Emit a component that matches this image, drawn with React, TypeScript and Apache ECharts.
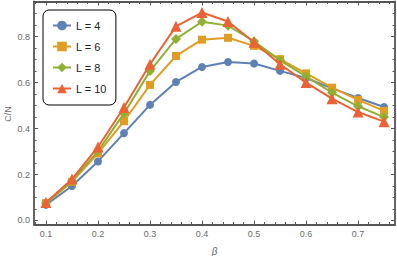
import React, { useEffect, useRef } from "react";
import * as echarts from "echarts";

const beta = [0.1, 0.15, 0.2, 0.25, 0.3, 0.35, 0.4, 0.45, 0.5, 0.55, 0.6, 0.65, 0.7, 0.75];
const L4 = [0.068, 0.15, 0.257, 0.38, 0.503, 0.603, 0.668, 0.69, 0.683, 0.651, 0.62, 0.575, 0.533, 0.494];
const L6 = [0.075, 0.168, 0.292, 0.432, 0.59, 0.716, 0.787, 0.795, 0.76, 0.702, 0.64, 0.578, 0.525, 0.477];
const L8 = [0.076, 0.172, 0.302, 0.466, 0.65, 0.79, 0.865, 0.848, 0.78, 0.697, 0.627, 0.556, 0.497, 0.45];
const L10 = [0.078, 0.18, 0.32, 0.492, 0.68, 0.845, 0.905, 0.866, 0.776, 0.68, 0.6, 0.53, 0.472, 0.43];
const seriesNames = ["L = 4", "L = 6", "L = 8", "L = 10"];
const xMajor = [0.1, 0.2, 0.3, 0.4, 0.5, 0.6, 0.7];
const yMajor = [0.0, 0.2, 0.4, 0.6, 0.8];
const yTitle = "C/N";
const xTitle = "β";

const colors = ["#5E81B5", "#E19C24", "#8FB032", "#EB6235"];
const symbols = ["circle", "rect", "diamond", "triangle"];
const symbolSizes = [8, 8, 10, 11];

const X_MIN = 0.077;
const X_MAX = 0.771;
const Y_MIN = -0.0175;
const Y_MAX = 0.953;

const frameColor = "#555555";
const labelColor = "#6a6a6a";

function range(a: number, b: number, step: number) {
  const out: number[] = [];
  for (let v = a; v <= b + 1e-9; v += step) out.push(Math.round(v * 1000) / 1000);
  return out;
}
const xMinor = range(0.08, 0.77, 0.02).filter((v) => !xMajor.some((m) => Math.abs(m - v) < 1e-6));
const yMinor = range(0, 0.95, 0.05).filter((v) => !yMajor.some((m) => Math.abs(m - v) < 1e-6));

function axisBase(kind: "x" | "y", position: string, ticks: number[], len: number, showLine: boolean, labels: number[] | null) {
  return {
    type: "value",
    position,
    offset: 0,
    min: kind === "x" ? X_MIN : Y_MIN,
    max: kind === "x" ? X_MAX : Y_MAX,
    axisLine: { show: showLine, onZero: false, lineStyle: { color: frameColor, width: 1.8 } },
    axisTick: { show: true, inside: true, length: len, customValues: ticks, lineStyle: { color: frameColor, width: 1 } },
    axisLabel: labels
      ? {
          show: true,
          customValues: labels,
          formatter: (v: number) => v.toFixed(1),
          color: labelColor,
          fontSize: 9,
          fontFamily: "Liberation Sans",
          margin: kind === "x" ? 5 : 4,
        }
      : { show: false },
    splitLine: { show: false },
  };
}

export default function App() {
  const ref = useRef<HTMLDivElement>(null);
  useEffect(() => {
    if (!ref.current) return;
    const chart = echarts.init(ref.current, undefined, { renderer: "svg" });
    const datas = [L4, L6, L8, L10];
    const xAxes = [
      { ...axisBase("x", "bottom", xMajor, 4, true, xMajor), name: xTitle, nameLocation: "middle", nameGap: 22, nameTextStyle: { color: labelColor, fontSize: 10, fontStyle: "italic", fontFamily: "Liberation Sans" } },
      axisBase("x", "bottom", xMinor, 2.5, false, null),
      axisBase("x", "top", xMajor, 4, true, null),
      axisBase("x", "top", xMinor, 2.5, false, null),
    ];
    const yAxes = [
      axisBase("y", "left", yMajor, 4, true, yMajor),
      axisBase("y", "left", yMinor, 2.5, false, null),
      axisBase("y", "right", yMajor, 4, true, null),
      axisBase("y", "right", yMinor, 2.5, false, null),
    ];
    chart.setOption({
      animation: false,
      backgroundColor: "#ffffff",
      grid: { left: 34, top: 1.5, width: 361, height: 223, containLabel: false, outerBoundsMode: "none" },
      xAxis: xAxes,
      yAxis: yAxes,
      graphic: [
        {
          type: "text",
          x: 8,
          y: 114,
          rotation: Math.PI / 2,
          style: {
            text: yTitle,
            fill: labelColor,
            fontSize: 9,
            fontFamily: "Liberation Sans",
            align: "center",
            verticalAlign: "middle",
          },
        },
      ],
      legend: {
        show: true,
        orient: "vertical",
        left: 43,
        top: 10,
        padding: [10, 9, 11, 9],
        itemGap: 10,
        itemWidth: 18,
        itemHeight: 12,
        borderColor: "#000",
        borderWidth: 1,
        borderRadius: 6,
        backgroundColor: "#fff",
        textStyle: { color: "#222", fontSize: 11, fontFamily: "Liberation Sans" },
        data: seriesNames,
      },
      series: datas.map((d, i) => ({
        name: seriesNames[i],
        type: "line",
        xAxisIndex: 0,
        yAxisIndex: 0,
        data: beta.map((b, j) => [b, d[j]]),
        symbol: symbols[i],
        symbolSize: symbolSizes[i],
        showSymbol: true,
        itemStyle: { color: colors[i] },
        lineStyle: { color: colors[i], width: 2 },
        z: 2 + i,
      })),
    });
    return () => chart.dispose();
  }, []);
  return <div ref={ref} style={{ width: 397, height: 256, position: "absolute", left: 0, top: 0 }} />;
}
